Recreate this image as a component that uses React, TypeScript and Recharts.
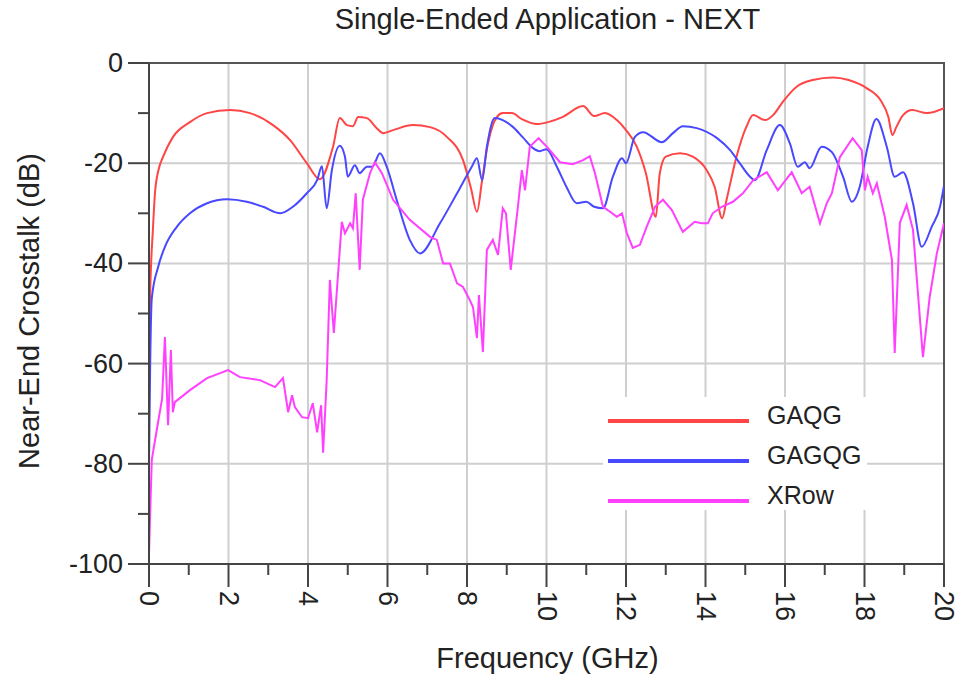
import { CartesianGrid, Legend, Line, LineChart, ReferenceArea, XAxis, YAxis } from "recharts";

// frequency (GHz) / crosstalk (dB)
const gaqgFreq = [0, 0.03, 0.1, 0.15, 0.25, 0.35, 0.6, 1.03, 1.46, 2.04, 2.54, 3.12, 3.55, 3.97, 4.3, 4.63, 4.8, 4.98, 5.13, 5.26, 5.48, 5.73, 5.89, 6.14, 6.64, 7.07, 7.5, 7.9, 8.1, 8.25, 8.38, 8.53, 8.75, 8.9, 9.13, 9.38, 9.76, 10.04, 10.4, 10.92, 11.2, 11.47, 11.77, 12.0, 12.27, 12.5, 12.75, 12.85, 13.0, 13.36, 13.68, 14.03, 14.23, 14.42, 14.53, 14.78, 15.03, 15.2, 15.5, 15.7, 15.95, 16.3, 16.7, 17.2, 17.6, 18.05, 18.4, 18.6, 18.7, 18.8, 18.97, 19.2, 19.57, 20];
const gaqgDb = [-59, -46, -33, -26, -21, -18.8, -14.8, -11.8, -10, -9.4, -10, -12.4, -15.4, -20, -23.2, -16.7, -11, -12.4, -12.6, -10.8, -11, -13, -14, -13.4, -12.4, -12.8, -14.8, -19.4, -25, -29.7, -23.4, -16, -10.8, -10, -10, -11.2, -12.2, -11.8, -10.8, -8.6, -10.6, -10, -11.4, -13.4, -16.7, -22, -30.7, -22, -18.7, -18, -18.7, -21.4, -24.7, -31, -27.3, -18.7, -12.7, -10.4, -11.4, -10.4, -7.7, -4.7, -3.4, -2.9, -3.4, -5, -7.4, -10.8, -14.4, -12.8, -10.4, -9.4, -10, -9];

const gagqgFreq = [0, 0.03, 0.07, 0.23, 0.4, 0.7, 1.03, 1.46, 1.96, 2.46, 2.87, 3.3, 3.62, 3.97, 4.23, 4.35, 4.47, 4.6, 4.8, 4.93, 5.0, 5.18, 5.3, 5.48, 5.62, 5.81, 5.98, 6.23, 6.56, 6.82, 7.32, 7.75, 8.12, 8.25, 8.38, 8.5, 8.7, 8.9, 9.16, 9.4, 9.66, 9.83, 10.0, 10.26, 10.5, 10.76, 11.0, 11.2, 11.42, 11.67, 11.9, 12.0, 12.22, 12.43, 12.9, 13.18, 13.43, 13.78, 14.29, 14.62, 14.86, 15.12, 15.24, 15.54, 15.87, 16.12, 16.32, 16.5, 16.62, 16.92, 17.18, 17.46, 17.68, 17.88, 18.08, 18.3, 18.56, 18.76, 18.97, 19.22, 19.44, 19.69, 19.9, 20];
const gagqgDb = [-80, -60, -47, -40.7, -36.7, -32.7, -30, -28, -27.2, -27.7, -28.7, -30, -28.7, -26, -23.4, -20.6, -29, -21.4, -16.5, -18.7, -22.7, -20.4, -22, -20.7, -20.7, -18, -20.7, -27.3, -35.3, -38, -32, -26, -20.7, -19, -23.4, -16.7, -11, -11.4, -12.8, -14.8, -17, -17.6, -17.2, -20.7, -24.7, -28, -27.7, -28.7, -29, -22.7, -19, -20, -14.8, -13.8, -15.8, -14, -12.6, -13, -15, -17.4, -20, -22.7, -23.4, -17.4, -12.4, -16, -20.7, -19.8, -21, -16.7, -17.8, -22.7, -27.7, -24.7, -16.7, -11.2, -16.7, -22.7, -21.8, -28, -36.7, -32.7, -28.7, -24.5];

const xrowFreq = [0, 0.03, 0.07, 0.2, 0.33, 0.4, 0.48, 0.55, 0.6, 0.65, 1.03, 1.46, 1.99, 2.29, 2.79, 3.17, 3.37, 3.5, 3.6, 3.67, 3.85, 4.0, 4.12, 4.23, 4.33, 4.38, 4.47, 4.55, 4.65, 4.85, 4.93, 5.06, 5.13, 5.2, 5.3, 5.38, 5.56, 5.68, 5.86, 6.14, 6.56, 7.07, 7.24, 7.4, 7.57, 7.75, 7.9, 8.07, 8.15, 8.25, 8.3, 8.4, 8.5, 8.65, 8.78, 8.9, 8.98, 9.1, 9.28, 9.38, 9.46, 9.58, 9.8, 10.04, 10.34, 10.66, 10.92, 11.09, 11.22, 11.42, 11.6, 11.77, 11.9, 12.02, 12.17, 12.35, 12.52, 12.73, 12.93, 13.15, 13.43, 13.73, 13.9, 14.06, 14.18, 14.41, 14.69, 14.94, 15.2, 15.54, 15.82, 16.17, 16.42, 16.62, 16.88, 17.05, 17.18, 17.38, 17.7, 17.93, 18.01, 18.08, 18.21, 18.31, 18.51, 18.69, 18.76, 18.89, 19.06, 19.22, 19.47, 19.64, 19.82, 20];
const xrowDb = [-98, -89.8, -79.2, -73, -67, -54.7, -72.3, -57.3, -69.7, -67.7, -65.3, -62.9, -61.3, -62.7, -63.3, -64.7, -62.9, -69.7, -66.3, -68.7, -70.7, -70.9, -67.9, -73.7, -68.3, -77.8, -63.3, -43.3, -53.9, -31.7, -34, -32, -33, -26, -41.3, -27.3, -22, -19.8, -22, -27.3, -31.3, -34.7, -35.3, -40, -40, -44, -44.7, -47.3, -48.7, -54.9, -46.3, -57.7, -37.3, -35.3, -38.3, -29, -30, -41.3, -28.7, -21.4, -25.4, -16.7, -15, -17, -19.8, -20.2, -19.4, -18.6, -22, -28.7, -29.7, -30.7, -30, -33.9, -36.9, -36.3, -32.7, -28.7, -27.3, -29.3, -33.7, -31.7, -32, -32, -30, -28.7, -27.7, -26, -23.4, -21.8, -25.4, -21.8, -26, -24.7, -32, -28, -26, -18.8, -15, -17.4, -25.4, -22.7, -26, -24, -30.7, -39.3, -57.9, -31.9, -28.3, -33.3, -58.7, -46.7, -38, -32];

const seriesNames = ["GAQG", "GAGQG", "XRow"];
const xTicks = [0, 1, 2, 3, 4, 5, 6, 7, 8, 9, 10, 11, 12, 13, 14, 15, 16, 17, 18, 19, 20];
const yTicks = [-100, -90, -80, -70, -60, -50, -40, -30, -20, -10, 0];
const xGrid = [0, 2, 4, 6, 8, 10, 12, 14, 16, 18, 20];
const yGrid = [-100, -80, -60, -40, -20, 0];

const toPoints = (fs: number[], ds: number[]) => fs.map((f, i) => ({ f, db: ds[i] }));

const FONT = '"Liberation Sans", Arial, sans-serif';

function XTick({ x, y, payload }: any) {
  const major = payload.value % 2 === 0;
  return (
    <g>
      <line x1={x} y1={y} x2={x} y2={y + (major ? 23 : 11)} stroke="#444" strokeWidth={2} />
      {major && (
        <text
          x={x}
          y={y + 27}
          transform={`rotate(90, ${x}, ${y + 27})`}
          textAnchor="start"
          dominantBaseline="central"
          fontSize={27}
          fontFamily={FONT}
          fill="#222"
        >
          {payload.value}
        </text>
      )}
    </g>
  );
}

function YTick({ x, y, payload }: any) {
  const major = payload.value % 20 === 0;
  return (
    <g>
      <line x1={x - (major ? 21 : 11)} y1={y} x2={x} y2={y} stroke="#444" strokeWidth={2} />
      {major && (
        <text x={x - 26} y={y} textAnchor="end" dominantBaseline="central" fontSize={27} fontFamily={FONT} fill="#222">
          {payload.value}
        </text>
      )}
    </g>
  );
}

function LegendBox({ payload }: any) {
  const items = [...(payload || [])].sort(
    (a: any, b: any) => seriesNames.indexOf(a.value) - seriesNames.indexOf(b.value)
  );
  return (
    <svg width={264} height={113} style={{ display: "block", background: "#fff" }}>
      {items.map((p: any, i: number) => (
        <g key={p.value}>
          <line x1={5} x2={146} y1={24 + i * 40} y2={24 + i * 40} stroke={p.color} strokeWidth={4} />
          <text x={164} y={18 + i * 40} dominantBaseline="central" fontSize={25} fontFamily={FONT} fill="#222">
            {p.value}
          </text>
        </g>
      ))}
    </svg>
  );
}

export default function App() {
  return (
    <div style={{ position: "absolute", left: 0, top: 0, width: 959, height: 683, background: "#fff", fontFamily: FONT }}>
      <LineChart width={959} height={683} margin={{ top: 63, right: 15, bottom: 0, left: 0 }}>
        <CartesianGrid stroke="#cfcfcf" strokeWidth={2} verticalValues={xGrid} horizontalValues={yGrid} />
        <XAxis
          dataKey="f"
          type="number"
          domain={[0, 20]}
          ticks={xTicks}
          interval={0}
          height={119}
          tickSize={0}
          tickMargin={0}
          tickLine={false}
          axisLine={{ stroke: "#444", strokeWidth: 2 }}
          tick={<XTick />}
          allowDataOverflow
        />
        <YAxis
          type="number"
          domain={[-100, 0]}
          ticks={yTicks}
          interval={0}
          width={149}
          tickSize={0}
          tickMargin={0}
          tickLine={false}
          axisLine={{ stroke: "#444", strokeWidth: 2 }}
          tick={<YTick />}
          allowDataOverflow
        />
        <ReferenceArea x1={0} x2={20} y1={-100} y2={0} fill="none" stroke="#555" strokeWidth={2} />
        <Legend
          layout="horizontal"
          verticalAlign="middle"
          align="center"
          wrapperStyle={{ position: "absolute", left: 603, top: 397, width: 264, height: 113 }}
          content={<LegendBox />}
        />
        <Line data={toPoints(gaqgFreq, gaqgDb)} dataKey="db" name={seriesNames[0]} type="monotone" stroke="#ff4545" strokeWidth={2} dot={false} isAnimationActive={false} legendType="line" />
        <Line data={toPoints(gagqgFreq, gagqgDb)} dataKey="db" name={seriesNames[1]} type="monotone" stroke="#4848ff" strokeWidth={2} dot={false} isAnimationActive={false} legendType="line" />
        <Line data={toPoints(xrowFreq, xrowDb)} dataKey="db" name={seriesNames[2]} type="linear" stroke="#ff40ff" strokeWidth={2} dot={false} isAnimationActive={false} legendType="line" />
      </LineChart>
      <div style={{ position: "absolute", left: 0, width: 1095, top: 3, textAlign: "center", fontSize: 29, color: "#222", whiteSpace: "nowrap" }}>
        Single-Ended Application - NEXT
      </div>
      <div style={{ position: "absolute", left: 0, width: 1095, top: 642, textAlign: "center", fontSize: 29, color: "#222", whiteSpace: "nowrap" }}>
        Frequency (GHz)
      </div>
      <div
        style={{
          position: "absolute",
          left: 29,
          top: 311,
          transform: "translate(-50%, -50%) rotate(-90deg)",
          fontSize: 29,
          color: "#222",
          whiteSpace: "nowrap",
        }}
      >
        Near-End Crosstalk (dB)
      </div>
    </div>
  );
}
